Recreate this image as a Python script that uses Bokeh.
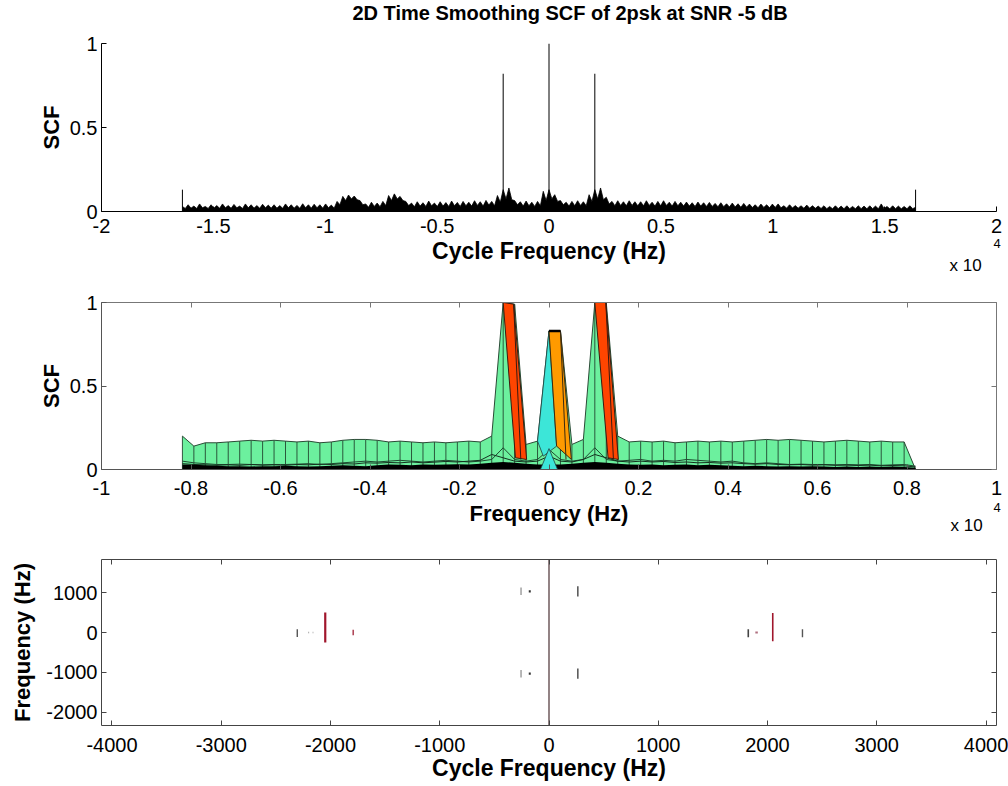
from bokeh.plotting import figure
from bokeh.layouts import column
from bokeh.models import FixedTicker, LinearAxis, Label, Range1d
from bokeh.embed import file_html
from bokeh.resources import INLINE

FONT = "Liberation Sans"
TICK_PX = "20px"
LABEL_PX = "22px"

# ------------------------------------------------------------------ data
title_text = "2D Time Smoothing SCF of 2psk at SNR -5 dB"
exp_base_text = "x 10"
exp_power_text = "4"

# panel 1 : SCF versus cycle frequency (Hz)
# spike tops of the noise floor, one every 256 Hz from -16384 Hz
p1_noise_start = -16384
p1_noise_step = 256
p1_noise = [
    0.03, 0.04, 0.032, 0.045, 0.03, 0.04, 0.035, 0.045,
    0.035, 0.042, 0.032, 0.045, 0.04, 0.035, 0.043, 0.038,
    0.04, 0.035, 0.045, 0.04, 0.036, 0.046, 0.04, 0.043,
    0.04, 0.045, 0.038, 0.06, 0.09, 0.098, 0.092, 0.065,
    0.045, 0.055, 0.05, 0.06, 0.095, 0.105, 0.09, 0.06,
    0.05, 0.058, 0.052, 0.062, 0.05, 0.058, 0.053, 0.062,
    0.054, 0.06, 0.055, 0.064, 0.058, 0.066, 0.06, 0.095,
    0.13, 0.14, 0.065, 0.058, 0.062, 0.055, 0.06, 0.12,
    0.13, 0.1, 0.065, 0.055, 0.06, 0.064, 0.058, 0.1,
    0.13, 0.14, 0.085, 0.06, 0.064, 0.058, 0.064, 0.058,
    0.058, 0.064, 0.055, 0.06, 0.064, 0.055, 0.06, 0.055,
    0.056, 0.052, 0.056, 0.052, 0.054, 0.048, 0.052, 0.046,
    0.05, 0.046, 0.048, 0.044, 0.04, 0.044, 0.04, 0.044,
    0.045, 0.034, 0.04, 0.035, 0.034, 0.038, 0.034, 0.032,
    0.034, 0.03, 0.034, 0.032, 0.034, 0.03, 0.034, 0.032,
    0.034, 0.032, 0.045, 0.03, 0.034, 0.032, 0.03, 0.034,
    0.025,
]
# troughs of the noise floor, half a step (128 Hz) after each spike
p1_floor = [
    0.018, 0.02, 0.018, 0.022, 0.018, 0.02, 0.019, 0.022,
    0.019, 0.022, 0.018, 0.022, 0.02, 0.019, 0.022, 0.02,
    0.02, 0.019, 0.022, 0.02, 0.019, 0.022, 0.02, 0.022,
    0.02, 0.022, 0.02, 0.04, 0.065, 0.075, 0.07, 0.04,
    0.025, 0.03, 0.028, 0.035, 0.065, 0.075, 0.065, 0.035,
    0.028, 0.032, 0.03, 0.034, 0.03, 0.032, 0.03, 0.034,
    0.03, 0.034, 0.032, 0.036, 0.032, 0.038, 0.034, 0.055,
    0.075, 0.07, 0.04, 0.032, 0.034, 0.03, 0.034, 0.065,
    0.075, 0.06, 0.04, 0.032, 0.034, 0.036, 0.034, 0.06,
    0.075, 0.07, 0.045, 0.034, 0.036, 0.034, 0.036, 0.034,
    0.034, 0.036, 0.032, 0.034, 0.036, 0.032, 0.034, 0.032,
    0.032, 0.03, 0.032, 0.03, 0.03, 0.028, 0.029, 0.027,
    0.027, 0.025, 0.026, 0.024, 0.022, 0.024, 0.022, 0.024,
    0.022, 0.02, 0.021, 0.02, 0.019, 0.02, 0.019, 0.018,
    0.017, 0.016, 0.017, 0.016, 0.017, 0.016, 0.017, 0.016,
    0.017, 0.016, 0.017, 0.016, 0.017, 0.016, 0.016, 0.017,
]
p1_line_x = [-16384, -2048, 0, 2048, 16384]
p1_line_y = [0.13, 0.82, 1.0, 0.82, 0.13]
p1_xticks = [-20000, -15000, -10000, -5000, 0, 5000, 10000, 15000, 20000]
p1_xtick_labels = ["-2", "-1.5", "-1", "-0.5", "0", "0.5", "1", "1.5", "2"]
scf_ticks = [0, 0.5, 1]
scf_tick_labels = ["0", "0.5", "1"]

# panel 2 : SCF versus frequency (Hz), side view of the surface
p2_start = -8192
p2_step = 256
p2_envelope = [
    0.20, 0.14, 0.16, 0.16, 0.165, 0.17, 0.175, 0.17,
    0.175, 0.17, 0.165, 0.17, 0.16, 0.165, 0.175, 0.18,
    0.18, 0.175, 0.165, 0.17, 0.165, 0.16, 0.165, 0.16,
    0.165, 0.17, 0.165, 0.20, 1.0, 0.99, 0.15, 0.17,
    0.83, 0.83, 0.15, 0.18, 1.0, 1.0, 0.20, 0.165,
    0.17, 0.165, 0.17, 0.16, 0.165, 0.17, 0.165, 0.17,
    0.165, 0.17, 0.175, 0.18, 0.175, 0.18, 0.175, 0.17,
    0.165, 0.17, 0.175, 0.17, 0.165, 0.17, 0.165, 0.165,
    0.0,
]
p2_floor = [
    0.03, 0.028, 0.025, 0.022, 0.02, 0.02, 0.018, 0.02,
    0.02, 0.022, 0.02, 0.018, 0.02, 0.022, 0.025, 0.022,
    0.02, 0.025, 0.03, 0.028, 0.025, 0.03, 0.028, 0.03,
    0.032, 0.03, 0.035, 0.04, 0.045, 0.04, 0.035, 0.03,
    0.03, 0.03, 0.035, 0.04, 0.045, 0.04, 0.035, 0.03,
    0.028, 0.03, 0.025, 0.028, 0.03, 0.025, 0.028, 0.025,
    0.022, 0.02, 0.022, 0.02, 0.018, 0.02, 0.018, 0.02,
    0.018, 0.015, 0.018, 0.015, 0.018, 0.015, 0.018, 0.015,
    0.01,
]
p2_mesh_a = [
    0.05, 0.04, 0.035, 0.03, 0.03, 0.032, 0.03, 0.028,
    0.03, 0.03, 0.032, 0.035, 0.03, 0.035, 0.04, 0.045,
    0.05, 0.045, 0.05, 0.055, 0.05, 0.045, 0.05, 0.055,
    0.05, 0.045, 0.05, 0.06, 0.13, 0.06, 0.05, 0.06,
    0.12, 0.06, 0.05, 0.06, 0.13, 0.06, 0.05, 0.055,
    0.06, 0.05, 0.055, 0.05, 0.06, 0.055, 0.05, 0.045,
    0.05, 0.04, 0.035, 0.04, 0.035, 0.03, 0.032, 0.03,
    0.03, 0.028, 0.03, 0.028, 0.03, 0.025, 0.028, 0.03,
    0.02,
]
p2_mesh_b = [
    0.035, 0.03, 0.028, 0.025, 0.028, 0.025, 0.03, 0.026,
    0.028, 0.025, 0.03, 0.028, 0.032, 0.03, 0.035, 0.033,
    0.04, 0.038, 0.042, 0.04, 0.045, 0.04, 0.044, 0.048,
    0.045, 0.05, 0.055, 0.09, 0.07, 0.05, 0.045, 0.05,
    0.08, 0.05, 0.045, 0.06, 0.09, 0.07, 0.05, 0.045,
    0.05, 0.045, 0.048, 0.042, 0.045, 0.04, 0.042, 0.038,
    0.04, 0.035, 0.032, 0.035, 0.03, 0.028, 0.03, 0.026,
    0.028, 0.025, 0.026, 0.024, 0.026, 0.022, 0.024, 0.022,
    0.015,
]
p2_red_left_x = [-1024, -790, -500, -750]
p2_red_left_y = [1.0, 0.99, 0.06, 0.07]
p2_red_left_edge_x = [-790, -630]
p2_red_left_edge_y = [0.99, 0.06]
p2_red_right_x = [1024, 1270, 1550, 1320]
p2_red_right_y = [1.0, 1.0, 0.06, 0.07]
p2_red_right_edge_x = [1270, 1440]
p2_red_right_edge_y = [1.0, 0.06]
p2_orange_x = [0, 256, 500, 170]
p2_orange_y = [0.83, 0.83, 0.06, 0.14]
p2_orange_edge_x = [256, 380]
p2_orange_edge_y = [0.83, 0.06]
p2_cyan_x = [-256, 0, 170, -128]
p2_cyan_y = [0.17, 0.83, 0.14, 0.08]
p2_cyan_base_x = [-192, 0, 192]
p2_cyan_base_y = [0.0, 0.125, 0.0]
p2_xticks = [-10000, -8000, -6000, -4000, -2000, 0, 2000, 4000, 6000, 8000, 10000]
p2_xtick_labels = ["-1", "-0.8", "-0.6", "-0.4", "-0.2", "0", "0.2", "0.4", "0.6", "0.8", "1"]

# panel 3 : contour marks, cycle frequency vs frequency (Hz)
p3_seg_x = [0, -2048, 2048, -2304, -2200, -2160, -1792, 1824, 1900, 2320,
            -256, -176, 264, -256, -176, 264]
p3_seg_y0 = [-2330, -250, -220, -110, -20, -20, -70, -120, -25, -120,
             940, 1000, 900, -1130, -1060, -1160]
p3_seg_y1 = [1830, 500, 490, 80, 20, 20, 70, 80, 25, 80,
             1130, 1060, 1160, -940, -1000, -900]
p3_seg_color = ["#4a2f33", "#a0162c", "#a0162c", "#555555", "#aaaaaa", "#bbbbbb",
                "#b0485a", "#444444", "#b07080", "#555555",
                "#888888", "#333333", "#444444", "#888888", "#333333", "#444444"]
p3_seg_width = [1.2, 2.2, 1.6, 1.4, 1, 1, 1.6, 1.6, 2.5, 1.4,
                1.2, 2, 1.4, 1.2, 2, 1.4]
p3_xticks = [-4000, -3000, -2000, -1000, 0, 1000, 2000, 3000, 4000]
p3_yticks = [-2000, -1000, 0, 1000]


# ------------------------------------------------------------------ helpers
def style_axis(ax, ticks, labels, show_labels=True, standoff=4):
    ax.ticker = FixedTicker(ticks=ticks)
    ax.major_label_overrides = {t: l for t, l in zip(ticks, labels)}
    ax.major_tick_in = 5
    ax.major_tick_out = 0
    ax.minor_tick_line_color = None
    ax.major_label_text_font = FONT
    ax.major_label_text_font_size = TICK_PX if show_labels else "0px"
    ax.major_label_text_color = "black"
    ax.major_label_standoff = standoff if show_labels else 0
    ax.axis_label_text_font = FONT
    ax.axis_label_text_font_size = LABEL_PX
    ax.axis_label_text_font_style = "bold"
    ax.axis_label_text_color = "black"


def base_fig(height, top, bottom, xr, yr):
    p = figure(width=1008, height=height, x_range=Range1d(*xr), y_range=Range1d(*yr),
               output_backend="svg", toolbar_location=None,
               min_border_left=101, min_border_right=12,
               min_border_top=top, min_border_bottom=bottom)
    p.xgrid.grid_line_color = None
    p.ygrid.grid_line_color = None
    p.background_fill_color = "white"
    p.border_fill_color = "white"
    p.outline_line_color = None
    return p


def add_box(p, xticks, yticks, color):
    top = LinearAxis()
    right = LinearAxis()
    style_axis(top, xticks, ["" for _ in xticks], show_labels=False)
    style_axis(right, yticks, ["" for _ in yticks], show_labels=False)
    for a in (top, right):
        a.axis_line_color = color
        a.major_tick_line_color = color
    p.add_layout(top, "above")
    p.add_layout(right, "right")


def side_label(p, side, x, y, text, size, style="normal", baseline="middle"):
    # annotation living in a side panel, positioned in screen units of that panel
    p.add_layout(Label(x=x, y=y, x_units="screen", y_units="screen", text=text,
                       text_font=FONT, text_font_size=size, text_font_style=style,
                       text_color="black", text_baseline=baseline, text_align="left"),
                 side)


# ------------------------------------------------------------------ panel 1
p1 = base_fig(285, 43, 74, (-20000, 20000), (0, 1))
side_label(p1, "above", 251, 31, title_text, "20px", style="bold")

style_axis(p1.xaxis[0], p1_xticks, p1_xtick_labels, standoff=7)
style_axis(p1.yaxis[0], scf_ticks, scf_tick_labels)
p1.xaxis.axis_label = "Cycle Frequency (Hz)"
p1.yaxis.axis_label = "SCF"
p1.xaxis.axis_label_standoff = 2
p1.yaxis.axis_label_standoff = 3
p1.xaxis.axis_label_text_font_size = "23px"
for ax in (p1.xaxis[0], p1.yaxis[0]):
    ax.axis_line_color = "black"
    ax.major_tick_line_color = "black"

# saw-tooth outline of the noise floor: spike tops and the troughs between them
p1_saw_x, p1_saw_y = [], []
for i, top in enumerate(p1_noise):
    p1_saw_x.append(p1_noise_start + p1_noise_step * i)
    p1_saw_y.append(top)
    if i < len(p1_floor):
        p1_saw_x.append(p1_noise_start + p1_noise_step * i + p1_noise_step // 2)
        p1_saw_y.append(p1_floor[i])
p1.varea(x=p1_saw_x, y1=[0] * len(p1_saw_x), y2=p1_saw_y, fill_color="black")
p1.line(x=p1_saw_x, y=p1_saw_y, line_color="black", line_width=0.8)
p1.segment(x0=p1_line_x, y0=[0] * len(p1_line_x), x1=p1_line_x, y1=p1_line_y,
           line_color="black", line_width=1)
side_label(p1, "below", 848, 20, exp_base_text, "17px")
side_label(p1, "right", -3, -32, exp_power_text, "13px")

# ------------------------------------------------------------------ panel 2
p2 = base_fig(262, 17, 77, (-10000, 10000), (0, 1))
style_axis(p2.xaxis[0], p2_xticks, p2_xtick_labels, standoff=11)
style_axis(p2.yaxis[0], scf_ticks, scf_tick_labels)
p2.xaxis.axis_label = "Frequency (Hz)"
p2.yaxis.axis_label = "SCF"
p2.xaxis.axis_label_standoff = 3
p2.yaxis.axis_label_standoff = 3
for ax in (p2.xaxis[0], p2.yaxis[0]):
    ax.axis_line_color = "#555555"
    ax.major_tick_line_color = "#555555"
add_box(p2, p2_xticks, scf_ticks, "#777777")

p2_x = [p2_start + p2_step * i for i in range(len(p2_envelope))]
p2.varea(x=p2_x, y1=[0] * len(p2_x), y2=p2_envelope, fill_color="#6CF09E")
p2.segment(x0=p2_x, y0=[0] * len(p2_x), x1=p2_x, y1=p2_envelope,
           line_color="#1f3d2a", line_width=1, line_alpha=0.85)
p2.line(x=p2_x, y=p2_envelope, line_color="#2b4a36", line_width=1)
p2.line(x=p2_x, y=p2_mesh_a, line_color="#1f4a30", line_width=1)
p2.line(x=p2_x, y=p2_mesh_b, line_color="#15301f", line_width=1)
p2.varea(x=p2_x, y1=[0] * len(p2_x), y2=p2_floor, fill_color="black")

p2.patch(x=p2_red_left_x, y=p2_red_left_y, fill_color="#FF4500",
         line_color="#3a1a10", line_width=1)
p2.line(x=p2_red_left_edge_x, y=p2_red_left_edge_y, line_color="#3a1a10", line_width=1)
p2.patch(x=p2_red_right_x, y=p2_red_right_y, fill_color="#FF4500",
         line_color="#3a1a10", line_width=1)
p2.line(x=p2_red_right_edge_x, y=p2_red_right_edge_y, line_color="#3a1a10", line_width=1)
p2.patch(x=p2_cyan_x, y=p2_cyan_y, fill_color="#3CE6D8", line_color="#204040", line_width=0.8)
p2.patch(x=p2_orange_x, y=p2_orange_y, fill_color="#FF9A00", line_color="#3a2a10", line_width=1)
p2.line(x=p2_orange_edge_x, y=p2_orange_edge_y, line_color="#3a2a10", line_width=1)
p2.line(x=p2_orange_x[:2], y=p2_orange_y[:2], line_color="black", line_width=2.5)
p2.patch(x=p2_cyan_base_x, y=p2_cyan_base_y, fill_color="#3CE6D8", line_color="#204040",
         line_width=0.8)
side_label(p2, "below", 849, 22, exp_base_text, "17px")
side_label(p2, "right", -3, -38, exp_power_text, "13px")

# ------------------------------------------------------------------ panel 3
p3 = base_fig(239, 12, 61, (-4096, 4096), (-2330, 1830))
style_axis(p3.xaxis[0], p3_xticks, [str(t) for t in p3_xticks], standoff=12)
style_axis(p3.yaxis[0], p3_yticks, [str(t) for t in p3_yticks])
p3.xaxis.axis_label = "Cycle Frequency (Hz)"
p3.yaxis.axis_label = "Frequency (Hz)"
p3.xaxis.axis_label_standoff = 0
p3.yaxis.axis_label_standoff = 8
p3.xaxis.axis_label_text_font_size = "23px"
for ax in (p3.xaxis[0], p3.yaxis[0]):
    ax.axis_line_color = "#444444"
    ax.major_tick_line_color = "#444444"
add_box(p3, p3_xticks, p3_yticks, "#444444")

p3.segment(x0=p3_seg_x, y0=p3_seg_y0, x1=p3_seg_x, y1=p3_seg_y1,
           line_color=p3_seg_color, line_width=p3_seg_width)

layout = column(p1, p2, p3, spacing=0)
open("out.html", "w").write(file_html(layout, INLINE))
